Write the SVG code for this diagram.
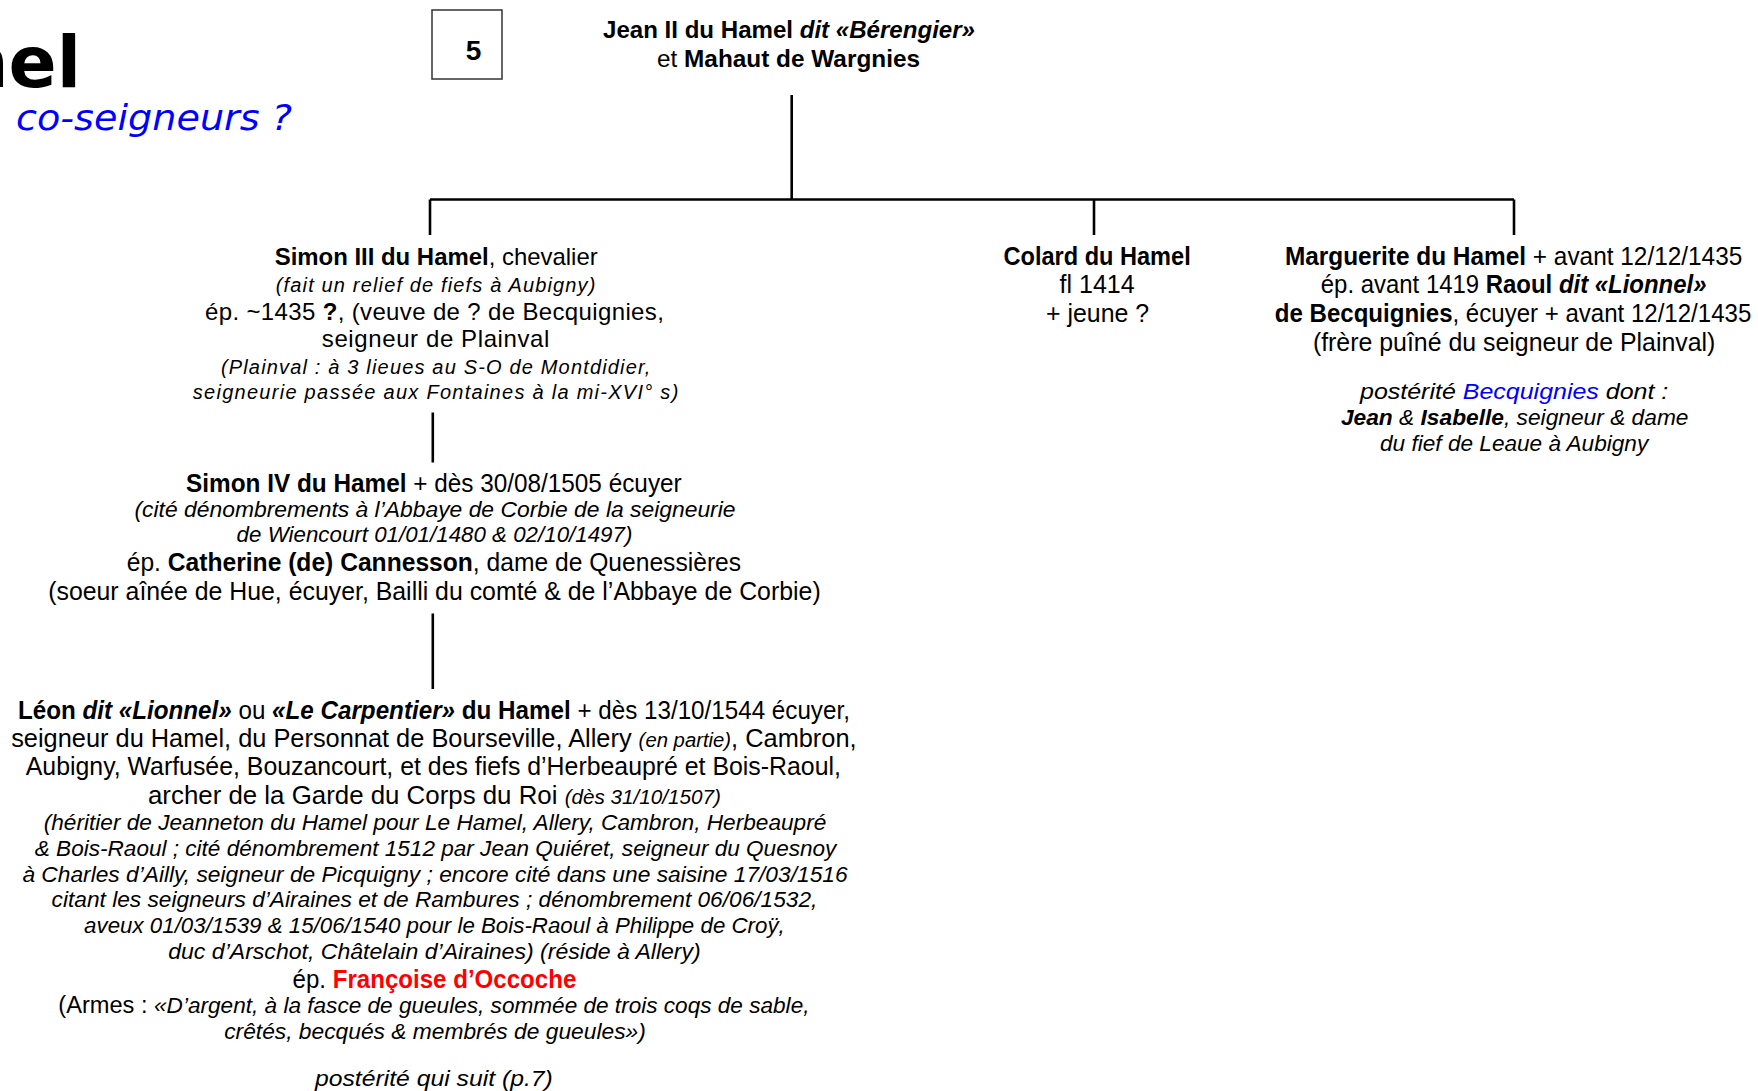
<svg xmlns="http://www.w3.org/2000/svg" width="1758" height="1091" viewBox="0 0 1758 1091">
<style>
.t{font-family:"Liberation Sans",Arial,sans-serif;fill:#000}
.a{font-size:24px}
.n{font-size:25px}
.ni{font-size:22px;font-style:italic}
.ai{font-size:21px;font-style:italic}
.b{font-weight:bold}
.i{font-style:italic}
.blue{fill:#0000ff}
.red{fill:#ff0000}
.ln{stroke:#000;stroke-width:2.6;fill:none}
</style>
<rect width="1758" height="1091" fill="#fff"/>
<g id="title">
<text x="81" y="87" text-anchor="end" style="font-family:'DejaVu Sans',Verdana,sans-serif;font-weight:bold;font-size:71px">nel</text>
<text x="16" y="130" textLength="276" lengthAdjust="spacingAndGlyphs" style="font-family:'DejaVu Sans',Verdana,sans-serif;font-style:italic;font-size:36px" class="blue">co-seigneurs ?</text>
</g>
<g id="page-number">
<rect x="432" y="10" width="70" height="69" fill="#fff" stroke="#333" stroke-width="1.5"/>
<text class="t b" x="473.5" y="60" text-anchor="middle" font-size="28">5</text>
</g>
<g id="connectors">
<path class="ln" d="M791.7 95V199.5M430 199.5H1514M430 199.5V235M1094 199.5V235M1514 199.5V235"/>
<path class="ln" d="M432.8 412.6V462.5M432.8 613.5V689"/>
</g>
<g id="jean-ii">
<text class="t a" x="603" y="38" textLength="372" lengthAdjust="spacingAndGlyphs"><tspan class="b">Jean II du Hamel </tspan><tspan class="b i">dit «Bérengier»</tspan></text>
<text class="t a" x="657" y="67" textLength="263" lengthAdjust="spacingAndGlyphs">et <tspan class="b">Mahaut de Wargnies</tspan></text>
</g>
<g id="simon-iii">
<text class="t a" x="274.7" y="265" textLength="323" lengthAdjust="spacingAndGlyphs"><tspan class="b">Simon III du Hamel</tspan>, chevalier</text>
<text class="t ai" x="275.8" y="292" style="font-size:20px" textLength="319.6">(fait un relief de fiefs à Aubigny)</text>
<text class="t a" x="205" y="320" textLength="458.8">ép. ~1435 <tspan class="b">?</tspan>, (veuve de ? de Becquignies,</text>
<text class="t a" x="321.8" y="347" textLength="227.6">seigneur de Plainval</text>
<text class="t ai" x="220.9" y="374" style="font-size:20px" textLength="429.4">(Plainval : à 3 lieues au S-O de Montdidier,</text>
<text class="t ai" x="192.8" y="399" style="font-size:20px" textLength="485.5">seigneurie passée aux Fontaines à la mi-XVI° s)</text>
</g>
<g id="colard">
<text class="t n b" x="1003.5" y="265" textLength="187.2" lengthAdjust="spacingAndGlyphs">Colard du Hamel</text>
<text class="t n" x="1059.5" y="293" textLength="75.2" lengthAdjust="spacingAndGlyphs">fl 1414</text>
<text class="t n" x="1046" y="322" textLength="103.2" lengthAdjust="spacingAndGlyphs">+ jeune ?</text>
</g>
<g id="marguerite">
<text class="t n" x="1284.9" y="265" textLength="457.4" lengthAdjust="spacingAndGlyphs"><tspan class="b">Marguerite du Hamel</tspan> + avant 12/12/1435</text>
<text class="t n" x="1320.8" y="293" textLength="385.7" lengthAdjust="spacingAndGlyphs">ép. avant 1419 <tspan class="b">Raoul </tspan><tspan class="b i">dit «Lionnel»</tspan></text>
<text class="t n" x="1274.8" y="322" textLength="476.5" lengthAdjust="spacingAndGlyphs"><tspan class="b">de Becquignies</tspan>, écuyer + avant 12/12/1435</text>
<text class="t n" x="1312.9" y="351" textLength="402.5" lengthAdjust="spacingAndGlyphs">(frère puîné du seigneur de Plainval)</text>
<text class="t ni" x="1360" y="399" textLength="308.3" lengthAdjust="spacingAndGlyphs">postérité <tspan class="blue">Becquignies</tspan> dont :</text>
<text class="t ni" x="1340.9" y="425" textLength="347.6" lengthAdjust="spacingAndGlyphs"><tspan class="b">Jean</tspan> &amp; <tspan class="b">Isabelle</tspan>, seigneur &amp; dame</text>
<text class="t ni" x="1380" y="451" textLength="268.2" lengthAdjust="spacingAndGlyphs">du fief de Leaue à Aubigny</text>
</g>
<g id="simon-iv">
<text class="t n" x="186.1" y="492" textLength="495.6" lengthAdjust="spacingAndGlyphs"><tspan class="b">Simon IV du Hamel</tspan> + dès 30/08/1505 écuyer</text>
<text class="t ni" x="134.5" y="517" textLength="601" lengthAdjust="spacingAndGlyphs">(cité dénombrements à l’Abbaye de Corbie de la seigneurie</text>
<text class="t ni" x="236.6" y="542" textLength="395.8" lengthAdjust="spacingAndGlyphs">de Wiencourt 01/01/1480 &amp; 02/10/1497)</text>
<text class="t n" x="126.7" y="571" textLength="614.4" lengthAdjust="spacingAndGlyphs">ép. <tspan class="b">Catherine (de) Cannesson</tspan>, dame de Quenessières</text>
<text class="t n" x="48.2" y="600" textLength="772.5" lengthAdjust="spacingAndGlyphs">(soeur aînée de Hue, écuyer, Bailli du comté &amp; de l’Abbaye de Corbie)</text>
</g>
<g id="leon">
<text class="t n" x="17.9" y="719" textLength="832" lengthAdjust="spacingAndGlyphs"><tspan class="b">Léon </tspan><tspan class="b i">dit «Lionnel»</tspan> ou <tspan class="b i">«Le Carpentier»</tspan><tspan class="b"> du Hamel</tspan> + dès 13/10/1544 écuyer,</text>
<text class="t n" x="11.2" y="747" textLength="845.4" lengthAdjust="spacingAndGlyphs">seigneur du Hamel, du Personnat de Bourseville, Allery <tspan class="i" font-size="20">(en partie)</tspan>, Cambron,</text>
<text class="t n" x="25.8" y="775" textLength="815.1" lengthAdjust="spacingAndGlyphs">Aubigny, Warfusée, Bouzancourt, et des fiefs d’Herbeaupré et Bois-Raoul,</text>
<text class="t n" x="148" y="804" textLength="573" lengthAdjust="spacingAndGlyphs">archer de la Garde du Corps du Roi <tspan class="i" font-size="20">(dès 31/10/1507)</tspan></text>
<text class="t ni" x="43.7" y="830" textLength="782.6" lengthAdjust="spacingAndGlyphs">(héritier de Jeanneton du Hamel pour Le Hamel, Allery, Cambron, Herbeaupré</text>
<text class="t ni" x="34.8" y="856" textLength="801.6" lengthAdjust="spacingAndGlyphs">&amp; Bois-Raoul ; cité dénombrement 1512 par Jean Quiéret, seigneur du Quesnoy</text>
<text class="t ni" x="22.4" y="882" textLength="825.2" lengthAdjust="spacingAndGlyphs">à Charles d’Ailly, seigneur de Picquigny ; encore cité dans une saisine 17/03/1516</text>
<text class="t ni" x="51.6" y="907" textLength="765.8" lengthAdjust="spacingAndGlyphs">citant les seigneurs d’Airaines et de Rambures ; dénombrement 06/06/1532,</text>
<text class="t ni" x="84.1" y="933" textLength="700.7" lengthAdjust="spacingAndGlyphs">aveux 01/03/1539 &amp; 15/06/1540 pour le Bois-Raoul à Philippe de Croÿ,</text>
<text class="t ni" x="168.2" y="959" textLength="532.6" lengthAdjust="spacingAndGlyphs">duc d’Arschot, Châtelain d’Airaines) (réside à Allery)</text>
<text class="t n" x="292.6" y="988" textLength="283.7" lengthAdjust="spacingAndGlyphs">ép. <tspan class="b red">Françoise d’Occoche</tspan></text>
<text class="t ni" x="58.3" y="1013" textLength="751.2" lengthAdjust="spacingAndGlyphs"><tspan font-style="normal" font-size="23">(Armes : </tspan>«D’argent, à la fasce de gueules, sommée de trois coqs de sable,</text>
<text class="t ni" x="224.2" y="1039" textLength="421.6" lengthAdjust="spacingAndGlyphs">crêtés, becqués &amp; membrés de gueules»)</text>
<text class="t ni" x="315" y="1086" textLength="237.8" lengthAdjust="spacingAndGlyphs">postérité qui suit (p.7)</text>
</g>
</svg>
